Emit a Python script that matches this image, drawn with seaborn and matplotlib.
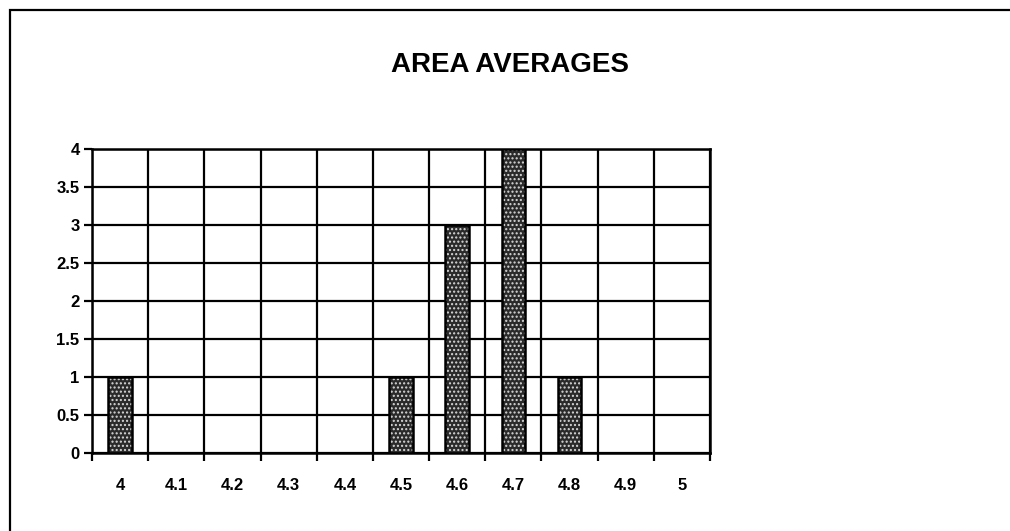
"""Recreate the AREA AVERAGES bar chart (scanned report figure)."""

import matplotlib

matplotlib.use("Agg")

import matplotlib.pyplot as plt
import numpy as np
import seaborn as sns
from matplotlib.patches import Rectangle

sns.set_style("white")
plt.rcParams["font.family"] = ["Liberation Sans", "DejaVu Sans"]
plt.rcParams["text.color"] = "black"
plt.rcParams["xtick.color"] = "black"
plt.rcParams["ytick.color"] = "black"

# values
categories = ["4", "4.1", "4.2", "4.3", "4.4", "4.5", "4.6", "4.7", "4.8", "4.9", "5"]
counts = [1, 0, 0, 0, 0, 1, 3, 4, 1, 0, 0]
y_ticks = [0, 0.5, 1, 1.5, 2, 2.5, 3, 3.5, 4]
y_tick_labels = ["0", "0.5", "1", "1.5", "2", "2.5", "3", "3.5", "4"]
title = "AREA AVERAGES"


def main() -> None:
    fig = plt.figure(figsize=(10.10, 5.31), dpi=100)
    ax = fig.add_axes([0.0911, 0.1469, 0.6119, 0.5725])

    # stippled fill: dark body with light dots, then a black outline on top
    sns.barplot(x=categories, y=counts, color="#2a2a2a", width=0.42,
                saturation=1, linewidth=0, ax=ax, zorder=3)
    for p in ax.patches:
        p.set_hatch("....")
        p.set_edgecolor("#d8d8d8")
        p.set_linewidth(0)
    sns.barplot(x=categories, y=counts, fill=False, edgecolor="black",
                width=0.42, linewidth=1.8, ax=ax, zorder=4)

    n = len(categories)
    ax.set_xlim(-0.5, n - 0.5)
    ax.set_ylim(0, 4)
    ax.set_yticks(y_ticks)
    ax.set_yticklabels(y_tick_labels)
    ax.set_xticks(np.arange(n))
    ax.set_xticklabels(categories)
    ax.set_xticks(np.arange(n + 1) - 0.5, minor=True)

    ax.grid(False)
    ax.yaxis.grid(True, which="major", color="black", linewidth=1.6, zorder=1)
    ax.xaxis.grid(True, which="minor", color="black", linewidth=1.6, zorder=1)
    ax.set_axisbelow(True)

    ax.tick_params(axis="x", which="major", bottom=True, length=0, pad=18,
                   labelsize=12, labelcolor="black")
    ax.tick_params(axis="x", which="minor", bottom=True, length=6, width=1.6,
                   direction="out", color="black")
    ax.tick_params(axis="y", which="major", left=True, length=6, width=1.6,
                   direction="out", color="black", labelsize=12,
                   labelcolor="black", pad=3)
    for lab in ax.get_xticklabels() + ax.get_yticklabels():
        lab.set_fontweight("bold")

    for side in ["left", "right", "top", "bottom"]:
        ax.spines[side].set_visible(True)
        ax.spines[side].set_color("black")
        ax.spines[side].set_linewidth(1.8)

    ax.set_xlabel("")
    ax.set_ylabel("")

    fig.text(0.505, 0.878, title, ha="center", va="center", fontsize=20,
             fontweight="bold", color="black")

    # scanned page border: only top and left edges fall inside the frame
    fig.patches.append(Rectangle((10 / 1010, -0.2), 1.2, 1.2 - 10 / 531,
                                 transform=fig.transFigure, fill=False,
                                 edgecolor="black", linewidth=1.6))

    fig.savefig("out.png", dpi=100, facecolor="white")
    plt.close(fig)


if __name__ == "__main__":
    main()
